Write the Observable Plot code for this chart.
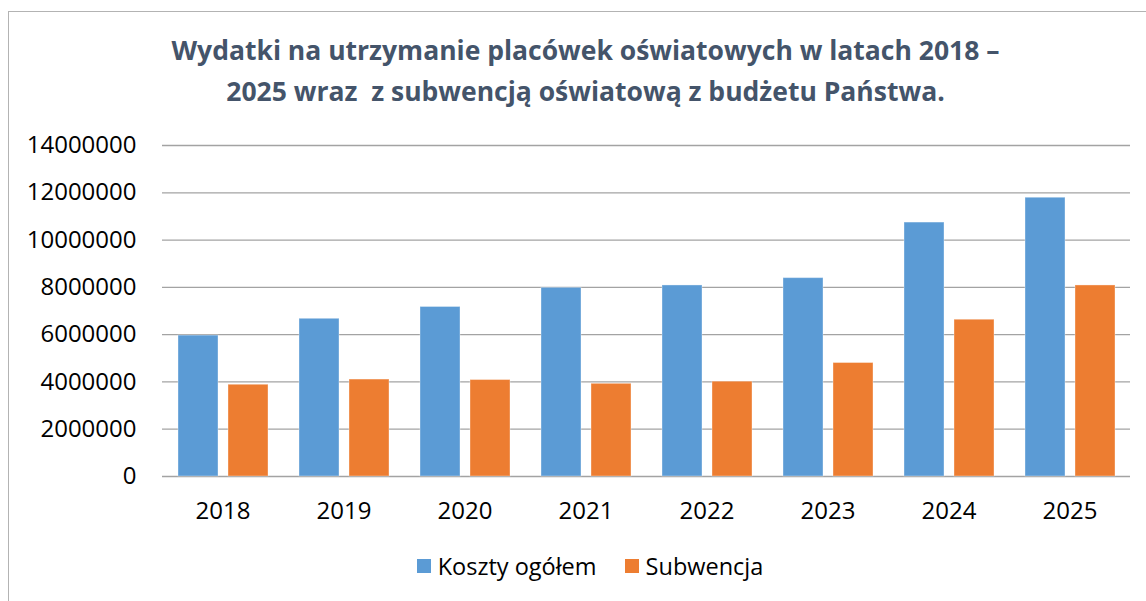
<!DOCTYPE html>
<html>
<head>
<meta charset="utf-8">
<script src="https://cdn.jsdelivr.net/npm/d3@7"></script>
<script src="https://cdn.jsdelivr.net/npm/@observablehq/plot@0.6"></script>
<style>
  html, body { margin: 0; padding: 0; background: #fff; width: 1146px; height: 601px; overflow: hidden; }
  #frame { position: absolute; left: 8px; top: 11px; width: 1200px; height: 700px;
           border-top: 1.5px solid #b3b3b3; border-left: 1.5px solid #b3b3b3; }
  #chart { position: absolute; left: 0; top: 0; }
  #title { position: absolute; left: 0; width: 1171px; top: 30px; text-align: center;
           font-family: "Open Sans", sans-serif; font-weight: bold; font-size: 26.5px;
           color: #44546A; line-height: 41px; }
  #legend { position: absolute; top: 548px; left: 0; width: 1180px; text-align: center;
            font-family: "Open Sans", sans-serif; font-size: 23.5px; color: #000; }
  .item { display: inline-flex; align-items: center; margin: 0 14px; }
  .sw { width: 14px; height: 14px; display: inline-block; margin-right: 7px; }
</style>
</head>
<body>
<div id="frame"></div>
<div id="chart"></div>
<div id="title">Wydatki na utrzymanie placówek oświatowych w latach 2018 –<br>2025 wraz&nbsp; z subwencją oświatową z budżetu Państwa.</div>
<div id="legend"></div>
<script>
const years = ["2018", "2019", "2020", "2021", "2022", "2023", "2024", "2025"];
const series = ["Koszty ogółem", "Subwencja"];
const koszty = [5960000, 6670000, 7170000, 7980000, 8080000, 8390000, 10740000, 11790000];
const subwencja = [3880000, 4100000, 4080000, 3920000, 4010000, 4800000, 6630000, 8080000];
const colors = ["#5B9BD5", "#ED7D31"];
const yTicks = [0, 2000000, 4000000, 6000000, 8000000, 10000000, 12000000, 14000000];

const data = [];
years.forEach((y, i) => {
  data.push({year: y, series: series[0], value: koszty[i]});
  data.push({year: y, series: series[1], value: subwencja[i]});
});

const chart = Plot.plot({
  width: 1146,
  height: 601,
  marginTop: 145,
  marginBottom: 125,
  marginLeft: 159,
  marginRight: 14,
  style: {fontFamily: "Open Sans, sans-serif", fontSize: "24px", color: "#000", background: "transparent"},
  fx: {domain: years, padding: 0, axis: "bottom", tickSize: 0, tickPadding: 25, label: null},
  x: {domain: series, paddingInner: 0.2, paddingOuter: 0.292, axis: null},
  y: {domain: [0, 14000000], ticks: yTicks, tickFormat: d => String(d), tickSize: 0, tickPadding: 26, label: null},
  color: {domain: series, range: colors},
  marks: [
    Plot.ruleY(yTicks, {stroke: "#a3a3a3", strokeWidth: 1.3}),
    Plot.barY(data, {fx: "year", x: "series", y: "value", fill: "series", stroke: "#ffffff", strokeOpacity: 0.35, strokeWidth: 1})
  ]
});
document.getElementById("chart").appendChild(chart);

const legend = document.getElementById("legend");
series.forEach((s, i) => {
  const item = document.createElement("span");
  item.className = "item";
  const sw = document.createElement("span");
  sw.className = "sw";
  sw.style.background = colors[i];
  item.appendChild(sw);
  item.appendChild(document.createTextNode(s));
  legend.appendChild(item);
});
</script>
</body>
</html>
